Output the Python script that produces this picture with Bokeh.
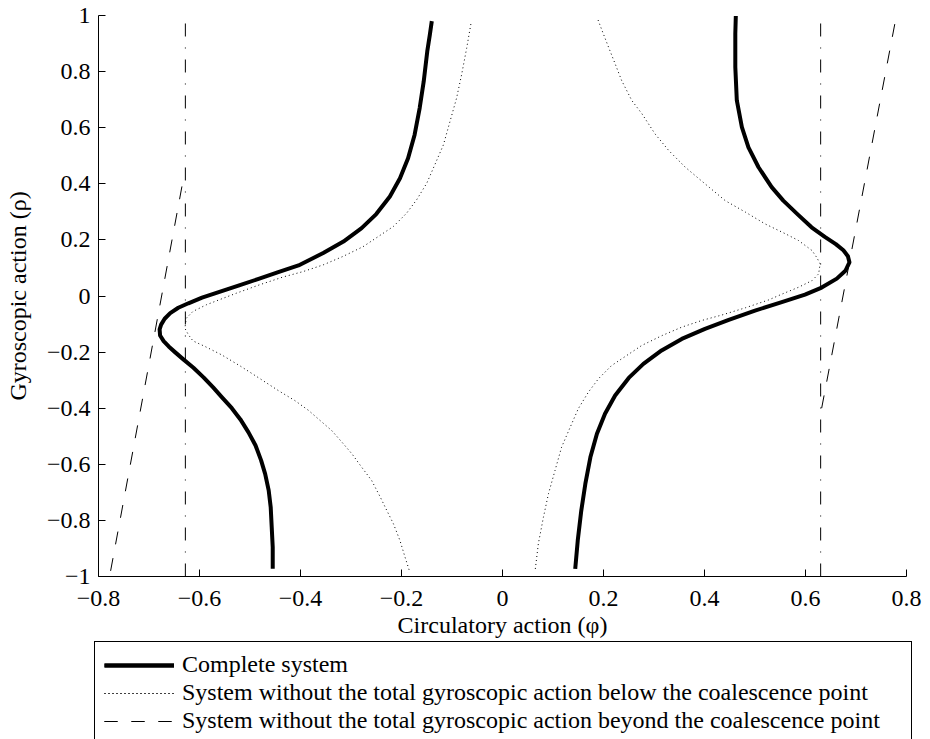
from bokeh.plotting import figure
from bokeh.models import FixedTicker, Legend, LegendItem, Range1d, Label
from bokeh.embed import file_html
from bokeh.resources import INLINE

# ---------------- data ----------------
x_ticks = [-0.8, -0.6, -0.4, -0.2, 0, 0.2, 0.4, 0.6, 0.8]
x_tick_labels = ["−0.8", "−0.6", "−0.4", "−0.2", "0", "0.2", "0.4", "0.6", "0.8"]
y_ticks = [-1, -0.8, -0.6, -0.4, -0.2, 0, 0.2, 0.4, 0.6, 0.8, 1]
y_tick_labels = ["−1", "−0.8", "−0.6", "−0.4", "−0.2", "0", "0.2", "0.4", "0.6", "0.8", "1"]
x_title = "Circulatory action (φ)"
y_title = "Gyroscopic action (ρ)"
legend_labels = ["Complete system",
                 "System without the total gyroscopic action below the coalescence point",
                 "System without the total gyroscopic action beyond the coalescence point"]

# Complete system (thick solid)
complete_left_phi = [-0.455, -0.455, -0.457, -0.459, -0.463, -0.470, -0.478, -0.489, -0.503, -0.519,
                     -0.536, -0.555, -0.573, -0.592, -0.612, -0.632, -0.648, -0.661, -0.671, -0.678,
                     -0.679, -0.676, -0.669, -0.658, -0.642, -0.622, -0.595, -0.562, -0.523, -0.483,
                     -0.444, -0.404, -0.355, -0.315, -0.279, -0.250, -0.223, -0.203, -0.187, -0.174,
                     -0.164, -0.156, -0.149, -0.144, -0.140]
complete_left_rho = [-0.972, -0.895, -0.824, -0.753, -0.693, -0.634, -0.586, -0.533, -0.486, -0.440,
                     -0.400, -0.362, -0.326, -0.290, -0.256, -0.226, -0.201, -0.180, -0.161, -0.141,
                     -0.119, -0.102, -0.081, -0.061, -0.042, -0.026, -0.006, 0.014, 0.037, 0.061,
                     0.085, 0.109, 0.153, 0.194, 0.242, 0.292, 0.355, 0.420, 0.491, 0.575,
                     0.670, 0.765, 0.872, 0.930, 0.980]
complete_right_phi = [0.144, 0.149, 0.156, 0.164, 0.174, 0.187, 0.203, 0.223, 0.250, 0.279,
                      0.315, 0.355, 0.401, 0.448, 0.500, 0.553, 0.599, 0.632, 0.662, 0.679,
                      0.687, 0.684, 0.675, 0.660, 0.639, 0.612, 0.585, 0.556, 0.533, 0.507,
                      0.487, 0.474, 0.464, 0.461, 0.461, 0.462]
complete_right_rho = [-0.973, -0.872, -0.765, -0.670, -0.575, -0.491, -0.420, -0.355, -0.292, -0.242,
                      -0.194, -0.153, -0.117, -0.085, -0.052, -0.022, 0.005, 0.030, 0.062, 0.090,
                      0.120, 0.142, 0.163, 0.185, 0.210, 0.245, 0.290, 0.340, 0.388, 0.459,
                      0.530, 0.602, 0.697, 0.816, 0.935, 0.998]

# Without total gyroscopic action below the coalescence point (dotted)
below_left_phi = [-0.185, -0.193, -0.203, -0.216, -0.229, -0.242, -0.259, -0.279, -0.298, -0.318,
                  -0.338, -0.361, -0.384, -0.411, -0.444, -0.480, -0.519, -0.556, -0.589, -0.613,
                  -0.622, -0.629, -0.626, -0.613, -0.586, -0.553, -0.527, -0.481, -0.434, -0.395,
                  -0.355, -0.316, -0.276, -0.246, -0.216, -0.190, -0.170, -0.150, -0.134, -0.117,
                  -0.104, -0.091, -0.081, -0.071, -0.062]
below_left_rho = [-0.976, -0.931, -0.872, -0.812, -0.765, -0.717, -0.658, -0.610, -0.563, -0.521,
                  -0.480, -0.444, -0.408, -0.373, -0.337, -0.295, -0.250, -0.210, -0.180, -0.160,
                  -0.138, -0.115, -0.079, -0.055, -0.031, -0.008, 0.010, 0.040, 0.068, 0.087,
                  0.111, 0.141, 0.176, 0.212, 0.248, 0.295, 0.343, 0.402, 0.468, 0.539,
                  0.622, 0.705, 0.789, 0.883, 0.976]
below_right_phi = [0.065, 0.071, 0.081, 0.091, 0.104, 0.117, 0.134, 0.150, 0.170, 0.190,
                   0.216, 0.246, 0.276, 0.316, 0.355, 0.395, 0.434, 0.481, 0.527, 0.555,
                   0.586, 0.613, 0.626, 0.629, 0.622, 0.613, 0.586, 0.560, 0.520, 0.481,
                   0.441, 0.401, 0.362, 0.329, 0.302, 0.276, 0.256, 0.236, 0.223, 0.210,
                   0.197, 0.189]
below_right_rho = [-0.973, -0.883, -0.789, -0.705, -0.622, -0.539, -0.468, -0.402, -0.343, -0.295,
                   -0.248, -0.212, -0.176, -0.141, -0.111, -0.087, -0.068, -0.042, -0.014, 0.008,
                   0.031, 0.055, 0.079, 0.115, 0.138, 0.162, 0.198, 0.222, 0.257, 0.299,
                   0.340, 0.400, 0.459, 0.519, 0.578, 0.650, 0.697, 0.768, 0.828, 0.887,
                   0.947, 0.985]

# Without total gyroscopic action beyond the coalescence point (dashed)
beyond_left_phi = [-0.776, -0.630]
beyond_left_rho = [-0.980, 0.437]
beyond_right_phi = [0.632, 0.780]
beyond_right_rho = [-0.400, 1.000]

# Coalescence abscissae (dash-dot verticals)
coalescence_phi = [-0.628, 0.630]
coalescence_rho = [-1.0, 1.0]

FONT = "Liberation Serif"
FS = "24px"

# The frame fills the whole canvas (so nothing is clipped); the axes are pinned
# at phi = -0.8 and rho = -1 and limited to the data bounds.
p = figure(width=930, height=739, output_backend="svg", toolbar_location=None,
           x_range=Range1d(-0.99406, 0.84752), y_range=Range1d(-1.58111, 1.05348),
           min_border_left=0, min_border_right=0, min_border_top=0, min_border_bottom=0)
p.outline_line_color = None
p.xgrid.grid_line_color = None
p.ygrid.grid_line_color = None
p.background_fill_color = "white"
p.border_fill_color = "white"

# dash-dot vertical lines
for cx in coalescence_phi:
    p.line([cx, cx], coalescence_rho, line_color="black", line_width=1, line_dash="13 11 1 11")

r_c1 = p.line(complete_left_phi, complete_left_rho, line_color="black", line_width=4,
              line_join="round", line_cap="butt")
r_c2 = p.line(complete_right_phi, complete_right_rho, line_color="black", line_width=4,
              line_join="round", line_cap="butt")
r_b1 = p.line(below_left_phi, below_left_rho, line_color="black", line_width=1, line_dash="1 3")
r_b2 = p.line(below_right_phi, below_right_rho, line_color="black", line_width=1, line_dash="1 3")
r_y1 = p.line(beyond_left_phi, beyond_left_rho, line_color="black", line_width=1, line_dash="13 14")
r_y2 = p.line(beyond_right_phi, beyond_right_rho, line_color="black", line_width=1, line_dash="13 14")

for ax in (p.xaxis[0], p.yaxis[0]):
    ax.major_tick_in = 7
    ax.major_tick_out = 0
    ax.minor_tick_line_color = None
    ax.axis_line_color = "black"
    ax.major_tick_line_color = "black"
    ax.major_label_text_font = FONT
    ax.major_label_text_font_size = FS
    ax.major_label_text_color = "black"

p.xaxis.ticker = FixedTicker(ticks=x_ticks)
p.yaxis.ticker = FixedTicker(ticks=y_ticks)
p.xaxis.major_label_overrides = dict(zip(x_ticks, x_tick_labels))
p.yaxis.major_label_overrides = dict(zip(y_ticks, y_tick_labels))
p.xaxis.fixed_location = y_ticks[0]
p.yaxis.fixed_location = x_ticks[0]
p.xaxis.bounds = (x_ticks[0], x_ticks[-1])
p.yaxis.bounds = (y_ticks[0], y_ticks[-1])
p.xaxis.major_label_standoff = 15
p.yaxis.major_label_standoff = 8

# axis titles (centred on the axes, not on the whole canvas)
p.add_layout(Label(x=0, y=115, x_units="data", y_units="screen", text=x_title,
                   text_font=FONT, text_font_size=FS, text_color="black",
                   text_align="center", text_baseline="middle"))
p.add_layout(Label(x=17.5, y=0, x_units="screen", y_units="data", text=y_title, angle=90,
                   angle_units="deg", text_font=FONT, text_font_size=FS, text_color="black",
                   text_align="center", text_baseline="middle"))

legend = Legend(items=[
    LegendItem(label=legend_labels[0], renderers=[r_c1, r_c2]),
    LegendItem(label=legend_labels[1], renderers=[r_b1, r_b2]),
    LegendItem(label=legend_labels[2], renderers=[r_y1, r_y2]),
], location=(94, -5), orientation="vertical")
legend.label_text_font = FONT
legend.label_text_font_size = FS
legend.label_text_color = "black"
legend.glyph_width = 70
legend.glyph_height = 22
legend.label_height = 22
legend.label_width = 720
legend.label_standoff = 8
legend.spacing = 1
legend.padding = 9
legend.margin = 0
legend.border_line_color = "black"
legend.border_line_width = 1
legend.border_line_alpha = 1
legend.background_fill_color = "white"
legend.background_fill_alpha = 1
p.add_layout(legend, "center")

open("out.html", "w").write(file_html(p, INLINE))
